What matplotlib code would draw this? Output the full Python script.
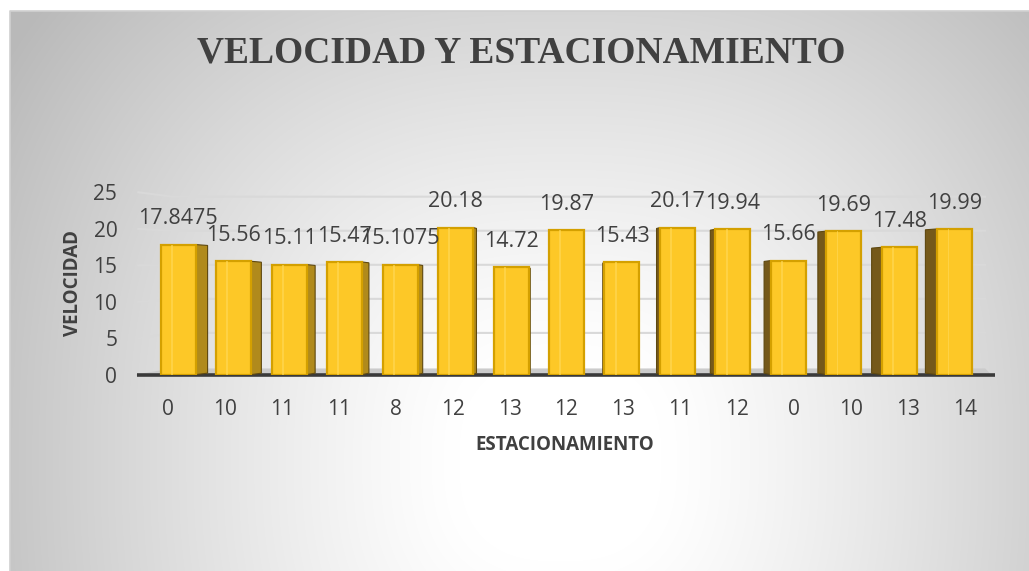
import numpy as np
import matplotlib.pyplot as plt
from matplotlib.patches import Polygon, Rectangle

# data
estacionamiento = ['0', '10', '11', '11', '8', '12', '13', '12', '13', '11', '12', '0', '10', '13', '14']
velocidad = [17.8475, 15.56, 15.11, 15.47, 15.1075, 20.18, 14.72, 19.87,
             15.43, 20.17, 19.94, 15.66, 19.69, 17.48, 19.99]
y_ticks = [0, 5, 10, 15, 20, 25]

W, H = 1029, 571
txt = '#404040'
plt.rcParams['font.family'] = ['Open Sans', 'DejaVu Sans']

fig = plt.figure(figsize=(W / 100, H / 100), dpi=100)

# background: grey->white gradient from the lower middle, light border
bg = fig.add_axes([0, 0, 1, 1])
bg.set_xlim(0, W)
bg.set_ylim(H, 0)
bg.axis('off')
yy, xx = np.mgrid[11:571, 10:1029]
p = 2.6
r = ((np.abs(xx - 560) / 560.0) ** p + (np.abs(yy - 460) / 560.0) ** p) ** (1 / p)
shade = 1 - 0.22 * np.clip((r - 0.18) / 0.8, 0, 1.2) ** 1.2
img = np.dstack([shade, shade, shade])
bg.imshow(img, extent=[10, 1029, 571, 11], aspect='auto', interpolation='bilinear')
bg.plot([10, 10, 1029], [571, 11, 11], color='#D0D0D0', lw=1.2)

# plot area
ax = fig.add_axes([139.5 / W, (H - 375) / H, 854 / W, 190 / H])
ax.set_xlim(-0.5, 14.5)
ax.set_ylim(0, 26)
ax.patch.set_alpha(0)
for s in ax.spines.values():
    s.set_visible(False)

# back wall gridlines with a little perspective at the left
for v in y_ticks[1:]:
    wall = 1.1 + v * 0.932
    ax.plot([-0.52, 0.08, 14.35], [v, wall, wall], color='#D9D9D9', lw=1.5,
            clip_on=False, zorder=1)

# floor
ax.add_patch(Polygon([(-0.55, 0), (14.45, 0), (14.35, 0.8), (0.08, 0.8)],
                     closed=True, color='#CBCBCB', zorder=1.5, clip_on=False))
ax.plot([-0.545, 14.53], [0, 0], color='#3A3A3A', lw=2.6, solid_capstyle='butt',
        zorder=2, clip_on=False)

x = np.arange(len(velocidad))
front = x + (7 - x) * 0.0255
w = 0.615

# side faces (the inner side, seen in perspective)
for i, v in enumerate(velocidad):
    sw = 0.03 * abs(i - 7)
    if sw == 0:
        continue
    if i < 7:
        x0 = front[i] + w / 2
        pts = [(x0, 0.05), (x0, v), (x0 + sw, v - 0.12), (x0 + sw, 0.25)]
        col = '#B08A1C'
    else:
        x0 = front[i] - w / 2
        pts = [(x0, 0.05), (x0, v), (x0 - sw, v - 0.12), (x0 - sw, 0.25)]
        col = '#75591A'
    ax.add_patch(Polygon(pts, closed=True, facecolor=col, edgecolor='#5E4810',
                         lw=0.8, zorder=3))

bars = ax.bar(front, velocidad, width=w, color='#FDC827', edgecolor='#D4A000',
              lw=1.6, zorder=4)
# faint highlight stripe on the front faces
ax.bar(front - w * 0.18, velocidad, width=w * 0.05, color='#FFD95A', lw=0,
       zorder=5, alpha=0.6)

for i, v in enumerate(velocidad):
    ax.annotate(str(v), (front[i], v), xytext=(0, 18.5), textcoords='offset points',
                ha='center', va='center', fontsize=15.5, color=txt, zorder=6)

ax.set_xticks(x, estacionamiento)
ax.set_yticks(y_ticks)
ax.tick_params(axis='x', length=0, pad=17, labelsize=15, labelcolor=txt)
ax.tick_params(axis='y', length=0, pad=16, labelsize=15, labelcolor=txt)

fig.text(521 / W, 1 - 53 / H, 'VELOCIDAD Y ESTACIONAMIENTO', ha='center', va='center',
         fontsize=27, fontweight='bold', family='Liberation Serif', color=txt)
fig.text(73 / W, 1 - 283 / H, 'VELOCIDAD', rotation=90, ha='center', va='center',
         fontsize=13.5, fontweight='bold', color=txt)
fig.text(565 / W, 1 - 445 / H, 'ESTACIONAMIENTO', ha='center', va='center',
         fontsize=13.5, fontweight='bold', color=txt)

fig.savefig('out.png', dpi=100)
